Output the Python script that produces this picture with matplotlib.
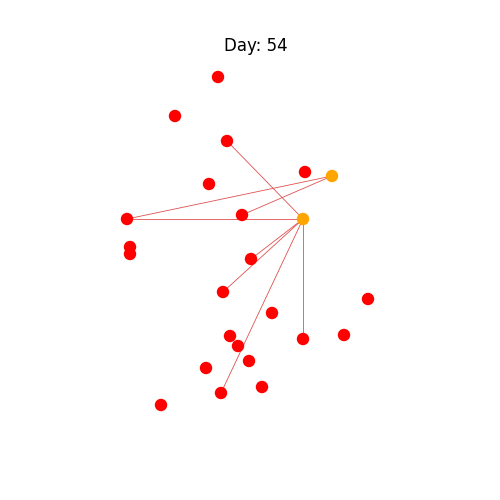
import matplotlib
matplotlib.use("Agg")
import matplotlib.pyplot as plt

# node positions (layout coords) and states
node_x = [218, 175, 227, 305, 332, 209, 127, 242, 303, 130, 130, 251, 223, 368, 272, 344, 303, 230, 238, 249, 206, 262, 221, 161]
node_y = [77, 116, 141, 172, 176, 184, 219, 215, 219, 247, 254, 259, 292, 299, 313, 335, 339, 336, 346, 361, 368, 387, 393, 405]
infected = [4, 8]
edges = [(4, 6), (4, 7), (8, 2), (8, 6), (8, 11), (8, 12), (8, 22), (8, 16)]

fig = plt.figure(figsize=(5, 5), dpi=100)
ax = fig.add_axes([0, 0, 1, 1])
ax.set_xlim(0, 500)
ax.set_ylim(500, 0)
ax.axis("off")

for a, b in edges:
    ax.plot([node_x[a], node_x[b]], [node_y[a], node_y[b]], color="#e05050", lw=0.6, zorder=1)

colors = ["orange" if i in infected else "red" for i in range(len(node_x))]
ax.scatter(node_x, node_y, s=80, c=colors, zorder=2, linewidths=0)

fig.text(0.512, 0.908, "Day: 54", ha="center", va="center", fontsize=12)
fig.savefig("out.png", dpi=100)
